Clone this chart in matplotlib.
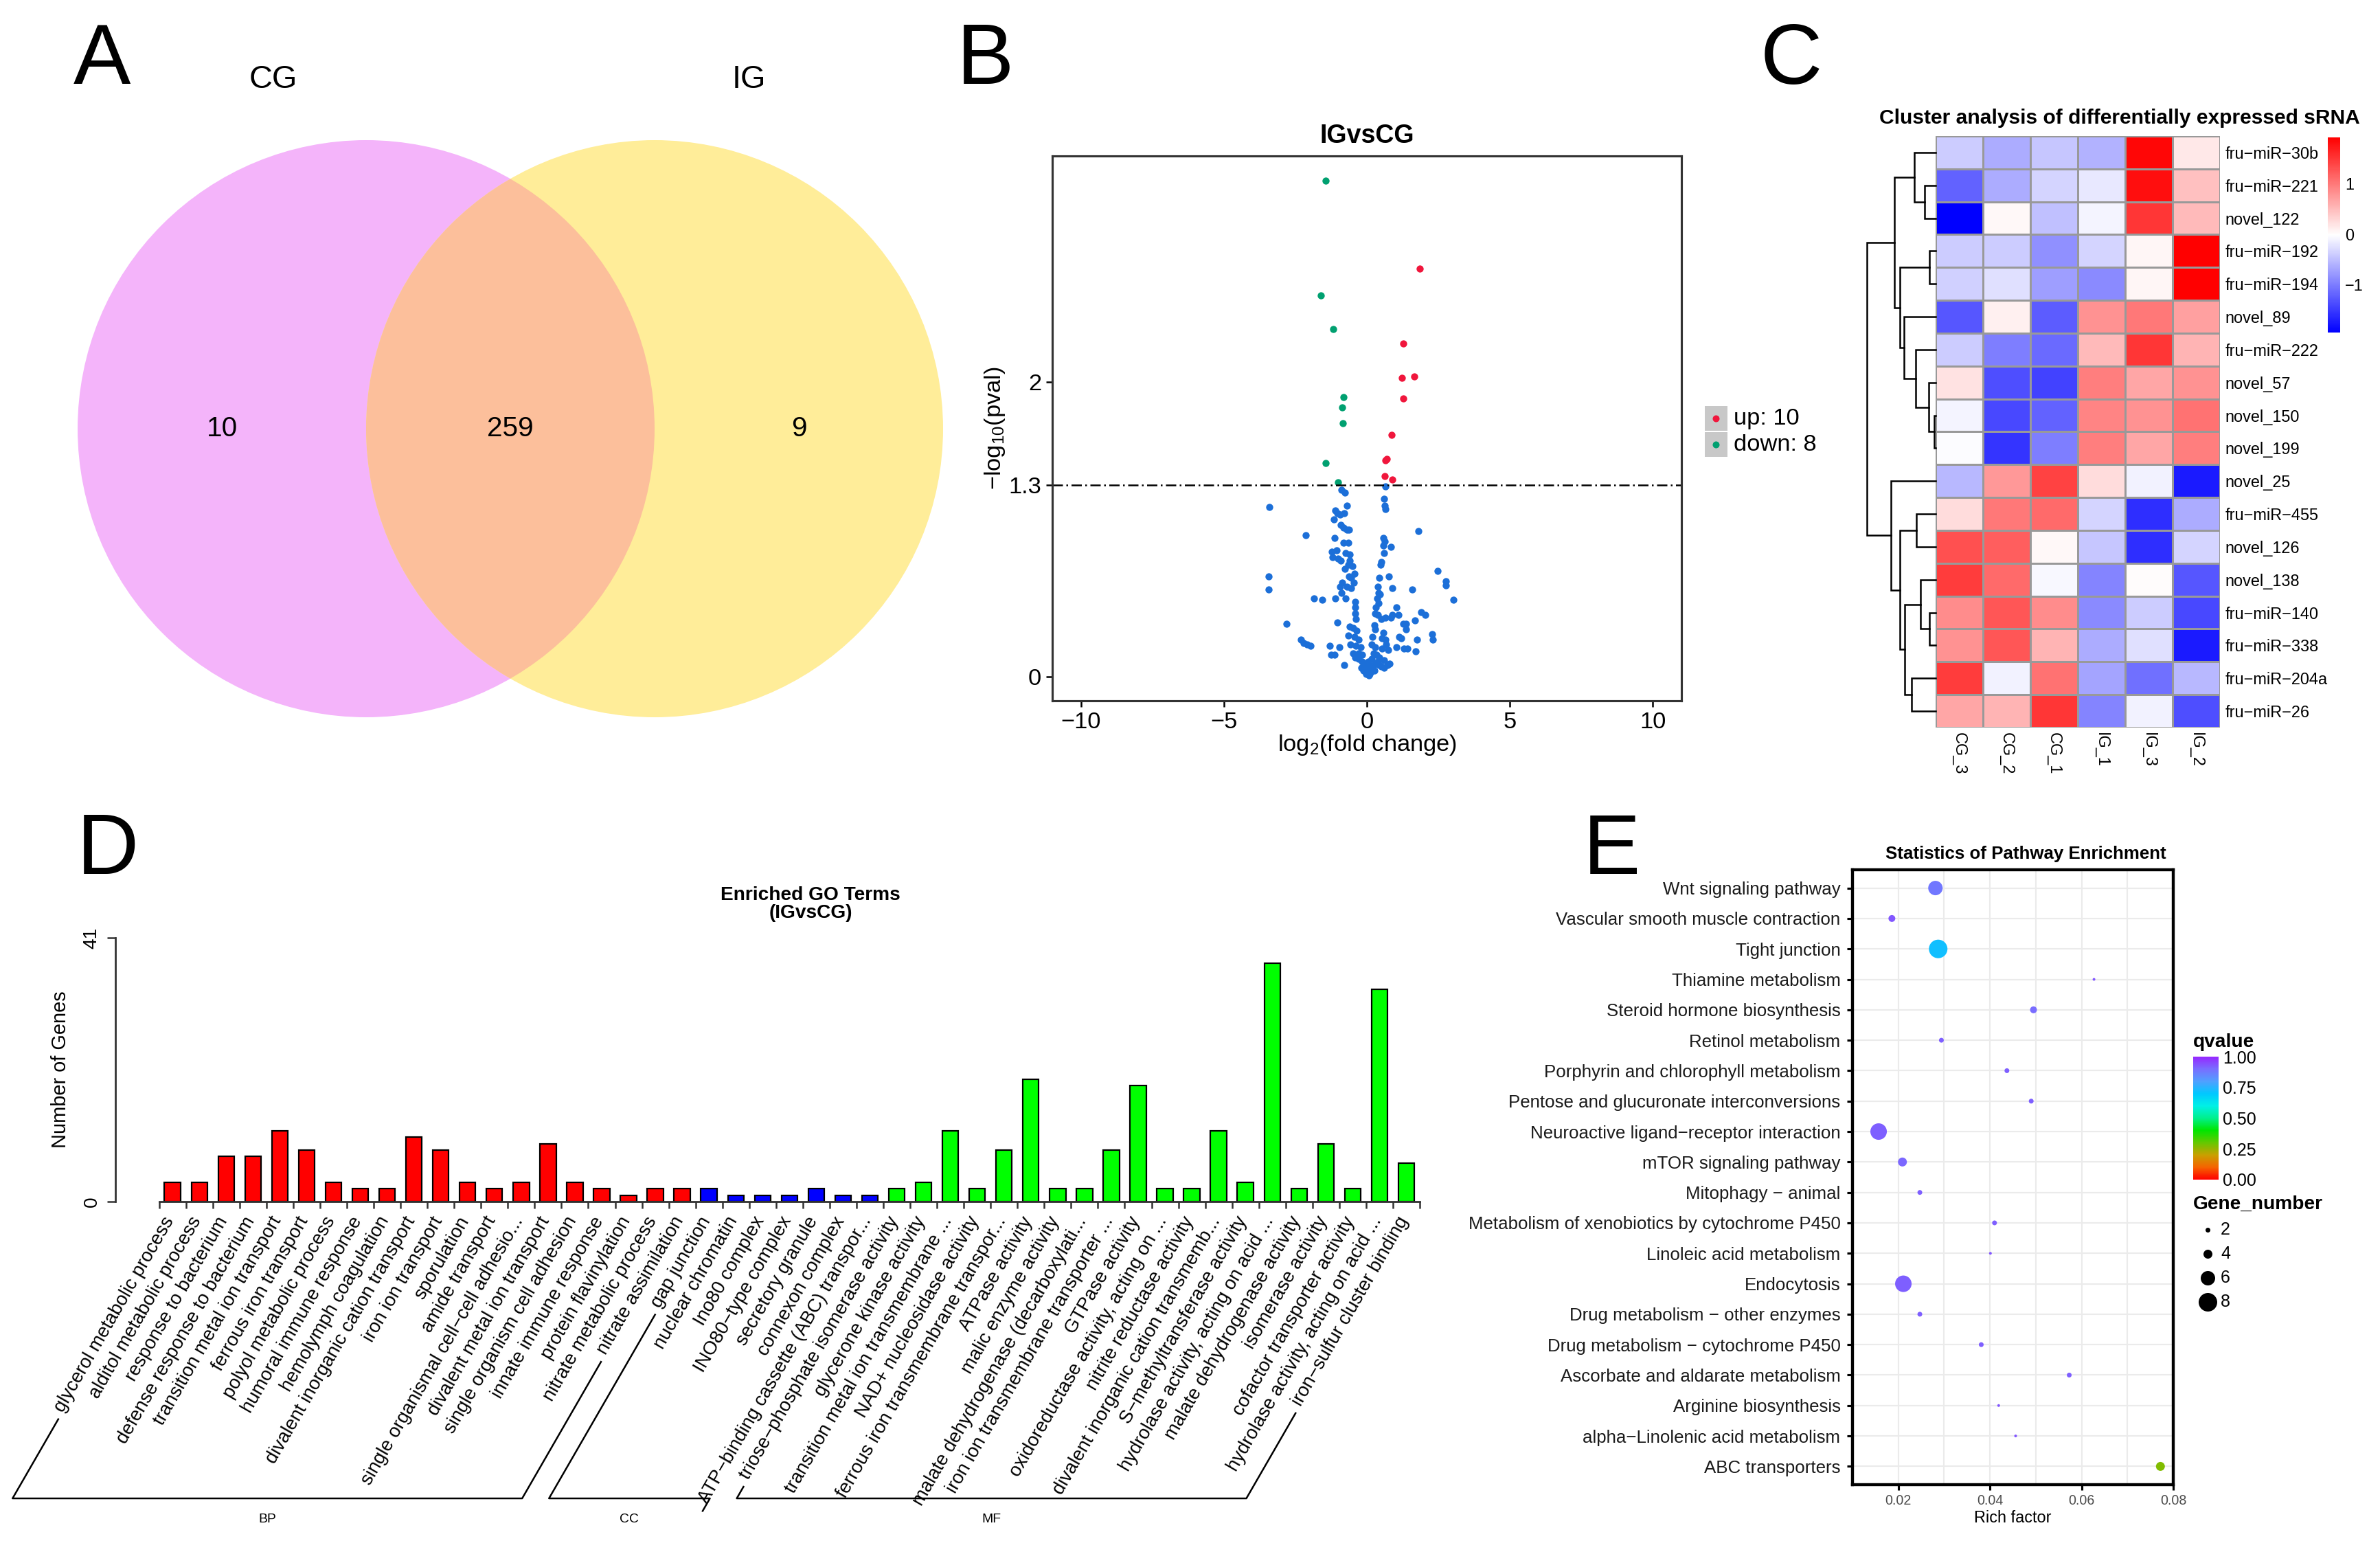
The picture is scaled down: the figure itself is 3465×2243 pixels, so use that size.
import numpy as np
import matplotlib
matplotlib.use('Agg')
import matplotlib.pyplot as plt
from matplotlib.patches import Circle, Rectangle
from matplotlib.colors import LinearSegmentedColormap, Normalize
from matplotlib.cm import ScalarMappable
from matplotlib.lines import Line2D

plt.rcParams['font.family'] = ['Liberation Sans', 'DejaVu Sans']
plt.rcParams['mathtext.default'] = 'regular'

W, H, DPI = 3465, 2243, 225

# ---------------- data ----------------
# A: Venn
venn_names = ['CG', 'IG']
venn_counts = [10, 259, 9]          # CG only, shared, IG only

# B: volcano (log2 fold change, -log10 p)
up_points = [(1.84, 2.77), (1.28, 2.26), (1.22, 2.03), (1.66, 2.04), (1.28, 1.89),
             (0.86, 1.64), (0.70, 1.48), (0.66, 1.47), (0.62, 1.36), (0.90, 1.34)]
down_points = [(-1.44, 3.37), (-1.60, 2.59), (-1.18, 2.36), (-0.82, 1.90),
               (-0.86, 1.83), (-0.84, 1.72), (-1.44, 1.45), (-1.00, 1.32)]
ns_points = [(-3.42, 1.15), (-3.44, 0.68), (-3.44, 0.59), (-2.14, 0.96), (-2.80, 0.36),
             (-2.30, 0.25), (-2.20, 0.23), (-2.10, 0.22), (-1.98, 0.21), (-1.86, 0.53),
             (-1.56, 0.52), (-1.30, 0.21), (-1.24, 0.15), (-1.14, 0.15), (-1.04, 0.37),
             (-1.10, 0.53), (-0.94, 0.61), (-0.96, 0.20), (-0.80, 0.08), (-0.88, 1.27),
             (-0.78, 1.25), (-0.70, 1.16), (-1.10, 1.13), (-1.04, 1.11), (-1.16, 1.07),
             (-0.94, 1.10), (-0.80, 1.11), (-0.92, 1.03), (-0.82, 1.01), (-0.70, 1.00),
             (-0.62, 1.00), (-1.14, 0.94), (-0.82, 0.91), (-0.66, 0.91), (-1.22, 0.85),
             (-1.06, 0.86), (-0.74, 0.84), (-0.60, 0.83), (-1.20, 0.81), (-1.02, 0.80),
             (-0.92, 0.79), (-0.60, 0.79), (-0.64, 0.76), (-0.50, 0.75), (-0.44, 0.70),
             (-0.62, 0.68), (-0.56, 0.67), (-0.46, 0.64), (-0.56, 0.60), (-0.70, 0.61),
             (-0.90, 0.57), (-0.74, 0.53), (-0.42, 0.51), (-0.42, 0.47), (-0.40, 0.43),
             (-0.38, 0.39), (-0.60, 0.34), (-0.48, 0.33), (-0.36, 0.31), (-0.64, 0.28),
             (-0.44, 0.27), (-0.30, 0.25), (-0.58, 0.22), (-0.38, 0.21), (-0.22, 0.20),
             (-0.48, 0.16), (-0.30, 0.16), (-0.16, 0.15), (-0.40, 0.13), (-0.28, 0.12),
             (-0.18, 0.10), (-0.10, 0.09), (-0.06, 0.08), (0.00, 0.06), (0.04, 0.05),
             (-0.04, 0.03), (0.08, 0.01), (0.14, 0.03), (0.20, 0.05), (0.24, 0.08),
             (0.30, 0.09), (0.38, 0.10), (0.44, 0.08), (0.50, 0.07), (0.60, 0.06),
             (0.72, 0.08), (0.80, 0.09), (0.66, 1.29), (0.60, 1.21), (0.62, 1.16),
             (0.64, 1.14), (0.58, 0.94), (0.62, 0.92), (0.58, 0.89), (0.60, 0.84),
             (0.84, 0.88), (0.50, 0.78), (0.48, 0.76), (0.76, 0.68), (0.44, 0.67),
             (0.38, 0.61), (0.88, 0.60), (0.40, 0.57), (0.46, 0.56), (0.36, 0.53),
             (0.42, 0.50), (0.32, 0.47), (0.30, 0.43), (0.38, 0.42), (0.50, 0.39),
             (0.64, 0.40), (0.84, 0.40), (0.90, 0.42), (1.04, 0.47), (1.10, 0.42),
             (0.26, 0.35), (0.28, 0.32), (0.58, 0.30), (0.20, 0.27), (0.54, 0.26),
             (0.64, 0.25), (0.18, 0.22), (0.28, 0.20), (0.54, 0.19), (0.24, 0.16),
             (0.34, 0.15), (0.44, 0.13), (0.60, 0.11), (0.68, 0.22), (0.74, 0.18),
             (1.80, 0.99), (2.48, 0.72), (2.76, 0.65), (2.76, 0.62), (3.02, 0.52),
             (1.58, 0.59), (1.90, 0.44), (2.04, 0.42), (1.68, 0.38), (1.36, 0.36),
             (1.38, 0.32), (1.28, 0.36), (2.28, 0.29), (2.30, 0.25), (1.76, 0.25),
             (1.70, 0.17), (1.12, 0.27), (1.20, 0.26), (1.04, 0.20), (1.30, 0.19),
             (1.42, 0.19), (-0.76, 0.73), (-0.86, 0.64), (-0.02, 0.02), (0.02, 0.04),
             (0.10, 0.02), (-0.12, 0.04), (0.06, 0.10), (0.16, 0.12), (-0.20, 0.06),
             (0.26, 0.04), (0.12, 0.07)]
p_cutoff = 1.3

# C: heatmap (row-scaled expression)
hm_rows = ['fru−miR−30b', 'fru−miR−221', 'novel_122', 'fru−miR−192', 'fru−miR−194',
           'novel_89', 'fru−miR−222', 'novel_57', 'novel_150', 'novel_199', 'novel_25',
           'fru−miR−455', 'novel_126', 'novel_138', 'fru−miR−140', 'fru−miR−338',
           'fru−miR−204a', 'fru−miR−26']
hm_cols = ['CG_3', 'CG_2', 'CG_1', 'IG_1', 'IG_3', 'IG_2']
hm_values = np.array([
    [-0.40, -0.65, -0.45, -0.60, 1.85, 0.15],
    [-1.20, -0.65, -0.35, -0.20, 1.80, 0.45],
    [-1.95, 0.03, -0.50, -0.10, 1.50, 0.50],
    [-0.40, -0.40, -0.85, -0.35, 0.05, 1.91],
    [-0.38, -0.25, -0.75, -0.90, 0.05, 1.90],
    [-1.30, 0.10, -1.25, 0.80, 1.00, 0.70],
    [-0.40, -1.00, -1.15, 0.50, 1.50, 0.55],
    [0.20, -1.35, -1.45, 0.95, 0.65, 0.80],
    [-0.10, -1.40, -1.20, 0.90, 0.80, 1.05],
    [-0.05, -1.55, -1.00, 0.95, 0.65, 0.95],
    [-0.55, 0.75, 1.40, 0.25, -0.12, -1.75],
    [0.25, 1.00, 1.10, -0.35, -1.60, -0.65],
    [1.30, 1.20, 0.03, -0.45, -1.60, -0.35],
    [1.45, 1.10, -0.08, -0.95, 0.00, -1.30],
    [0.85, 1.25, 0.85, -0.90, -0.40, -1.40],
    [0.80, 1.25, 0.55, -0.65, -0.25, -1.75],
    [1.45, -0.12, 1.05, -0.70, -1.10, -0.55],
    [0.65, 0.55, 1.50, -0.95, -0.12, -1.35],
])
# row dendrogram: (height, left, right), leaves are row indices
hm_tree = (202,
           (122, (62, 0, (33, 1, 2)),
                 (105, (18, 3, 4), (92, 5, (58, 6, (20, 7, (5, 8, 9)))))),
           (132, 10,
                 (105, (57, 11, 12),
                      (90, (45, 13, (18, 14, 15)), (70, 16, 17)))))

# D: GO enrichment
bp_terms = ['glycerol metabolic process', 'alditol metabolic process', 'response to bacterium',
            'defense response to bacterium', 'transition metal ion transport',
            'ferrous iron transport', 'polyol metabolic process', 'humoral immune response',
            'hemolymph coagulation', 'divalent inorganic cation transport', 'iron ion transport',
            'sporulation', 'amide transport', 'single organismal cell−cell adhesio...',
            'divalent metal ion transport', 'single organism cell adhesion',
            'innate immune response', 'protein flavinylation', 'nitrate metabolic process',
            'nitrate assimilation']
bp_counts = [3, 3, 7, 7, 11, 8, 3, 2, 2, 10, 8, 3, 2, 3, 9, 3, 2, 1, 2, 2]
cc_terms = ['gap junction', 'nuclear chromatin', 'Ino80 complex', 'INO80−type complex',
            'secretory granule', 'connexon complex', 'ATP−binding cassette (ABC) transpor...']
cc_counts = [2, 1, 1, 1, 2, 1, 1]
mf_terms = ['triose−phosphate isomerase activity', 'glycerone kinase activity',
            'transition metal ion transmembrane ...', 'NAD+ nucleosidase activity',
            'ferrous iron transmembrane transpor...', 'ATPase activity', 'malic enzyme activity',
            'malate dehydrogenase (decarboxylati...', 'iron ion transmembrane transporter ...',
            'GTPase activity', 'oxidoreductase activity, acting on ...',
            'nitrite reductase activity', 'divalent inorganic cation transmemb...',
            'S−methyltransferase activity', 'hydrolase activity, acting on acid ...',
            'malate dehydrogenase activity', 'isomerase activity',
            'cofactor transporter activity', 'hydrolase activity, acting on acid ...',
            'iron−sulfur cluster binding']
mf_counts = [2, 3, 11, 2, 8, 19, 2, 2, 8, 18, 2, 2, 11, 3, 37, 2, 9, 2, 33, 6]
go_ymax = 41

# E: KEGG enrichment
kegg_terms = ['Wnt signaling pathway', 'Vascular smooth muscle contraction', 'Tight junction',
              'Thiamine metabolism', 'Steroid hormone biosynthesis', 'Retinol metabolism',
              'Porphyrin and chlorophyll metabolism', 'Pentose and glucuronate interconversions',
              'Neuroactive ligand−receptor interaction', 'mTOR signaling pathway',
              'Mitophagy − animal', 'Metabolism of xenobiotics by cytochrome P450',
              'Linoleic acid metabolism', 'Endocytosis', 'Drug metabolism − other enzymes',
              'Drug metabolism − cytochrome P450', 'Ascorbate and aldarate metabolism',
              'Arginine biosynthesis', 'alpha−Linolenic acid metabolism', 'ABC transporters']
kegg_rich = [0.0281, 0.0186, 0.0287, 0.0627, 0.0495, 0.0294, 0.0437, 0.0490, 0.0157, 0.0209,
             0.0247, 0.0410, 0.0401, 0.0211, 0.0247, 0.0381, 0.0573, 0.0419, 0.0456, 0.0772]
kegg_genes = [6, 3, 8, 1, 3, 2, 2, 2, 7, 4, 2, 2, 1, 7, 2, 2, 2, 1, 1, 4]
kegg_q = [0.88, 0.93, 0.72, 0.93, 0.90, 0.92, 0.92, 0.92, 0.92, 0.91, 0.92, 0.92, 0.93, 0.92,
          0.92, 0.92, 0.92, 0.93, 0.93, 0.27]


# ---------------- helpers ----------------
def fx(px):
    return px / W


def fy(py):
    return 1 - py / H


def box(x0, y0, x1, y1):
    return [fx(x0), fy(y1), (x1 - x0) / W, (y1 - y0) / H]


fig = plt.figure(figsize=(W / DPI, H / DPI), dpi=DPI)

for letter, (lx, ly) in zip('ABCDE', [(148, 90), (1434, 90), (2608, 90), (157, 1240), (2346, 1240)]):
    fig.text(fx(lx), fy(ly), letter, fontsize=40, ha='center', va='center')

# ---------------- A: Venn ----------------
ax = fig.add_axes(box(71, 99, 1415, 1149))
ax.set_xlim(-1.6, 1.6)
ax.set_ylim(-1.25, 1.25)
ax.axis('off')
r = 1.0
c1, c2 = -0.5, 0.5
cg = Circle((c1, 0), r, fc='#F4B4FA', ec='none')
ig = Circle((c2, 0), r, fc='#FFED99', ec='none')
ax.add_patch(cg)
ax.add_patch(ig)
ov = Circle((c2, 0), r, fc='#FCBF9B', ec='none')
ax.add_patch(ov)
ov.set_clip_path(cg)
xs = [(c1 - r + c2 - r) / 2, (c2 - r + c1 + r) / 2, (c1 + r + c2 + r) / 2]
for x, n in zip(xs, venn_counts):
    ax.text(x, 0, str(n), ha='center', va='center', fontsize=13)
fig.text(fx(398), fy(116), venn_names[0], ha='center', va='center', fontsize=15)
fig.text(fx(1090), fy(116), venn_names[1], ha='center', va='center', fontsize=15)

# ---------------- B: volcano ----------------
ax = fig.add_axes(box(1532, 227, 2448, 1020))
ns = np.array(ns_points)
up = np.array(up_points)
dn = np.array(down_points)
ax.scatter(ns[:, 0], ns[:, 1], s=11, color='#1C6FD8', linewidths=0)
ax.scatter(up[:, 0], up[:, 1], s=11, color='#F0163C', linewidths=0)
ax.scatter(dn[:, 0], dn[:, 1], s=11, color='#00A070', linewidths=0)
ax.axhline(p_cutoff, color='black', lw=0.8, ls=(0, (6, 2, 1, 2)))
ax.set_xlim(-11, 11)
ax.set_ylim(-0.164, 3.536)
ax.set_xticks([-10, -5, 0, 5, 10])
ax.set_yticks([0, p_cutoff, 2])
ax.set_yticklabels(['0', '1.3', '2'])
ax.tick_params(labelsize=11, length=3, width=0.8, pad=2)
for sp in ax.spines.values():
    sp.set_color('#333333')
    sp.set_linewidth(1.0)
ax.set_xlabel('log$_2$(fold change)', fontsize=11, labelpad=0)
ax.set_ylabel('−log$_{10}$(pval)', fontsize=11, labelpad=1)
fig.text(fx(1990), fy(198), 'IGvsCG', ha='center', va='center', fontsize=12, fontweight='bold')
for i, (lab, col) in enumerate([('up: %d' % len(up_points), '#F0163C'),
                                ('down: %d' % len(down_points), '#00A070')]):
    y0 = 591 + i * 38
    fig.add_artist(Rectangle((fx(2482), fy(y0 + 36)), 33 / W, 36 / H,
                             transform=fig.transFigure, fc='#C8C8C8', ec='none'))
    fig.add_artist(Line2D([fx(2498)], [fy(y0 + 18)], marker='o', ms=3.2, color=col,
                          mec='none', transform=fig.transFigure))
    fig.text(fx(2524), fy(y0 + 18), lab, fontsize=11, va='center', ha='left')

# ---------------- C: heatmap ----------------
hm_cmap = LinearSegmentedColormap.from_list('bwr2', ['#0000FF', '#FFFFFF', '#FF0000'])
hm_norm = Normalize(vmin=hm_values.min(), vmax=hm_values.max())
ax = fig.add_axes(box(2818, 198, 3232, 1059))
nrow, ncol = hm_values.shape
ax.pcolormesh(np.arange(ncol + 1), np.arange(nrow + 1), hm_values, cmap=hm_cmap, norm=hm_norm,
              edgecolors='#999999', linewidth=0.9)
ax.set_xlim(0, ncol)
ax.set_ylim(nrow, 0)
ax.yaxis.tick_right()
ax.set_yticks(np.arange(nrow) + 0.5)
ax.set_yticklabels(hm_rows, fontsize=7.5)
ax.set_xticks(np.arange(ncol) + 0.5)
ax.set_xticklabels(hm_cols, fontsize=7.5, rotation=270)
ax.tick_params(length=0, pad=2.3)
for sp in ax.spines.values():
    sp.set_visible(False)
fig.text(fx(3086), fy(172), 'Cluster analysis of differentially expressed sRNA',
         ha='center', va='center', fontsize=9.6, fontweight='bold')

dax = fig.add_axes(box(2718, 198, 2818, 1059))
dax.set_xlim(hm_tree[0], 0)
dax.set_ylim(nrow, 0)
dax.axis('off')


def draw_tree(node):
    if not isinstance(node, tuple):
        return node + 0.5, 0
    h, left, right = node
    yl, hl = draw_tree(left)
    yr, hr = draw_tree(right)
    dax.plot([hl, h, h, hr], [yl, yl, yr, yr], color='black', lw=0.8,
             solid_joinstyle='miter', clip_on=False)
    return (yl + yr) / 2, h


draw_tree(hm_tree)

cax = fig.add_axes(box(3389, 200, 3407, 484))
cb = fig.colorbar(ScalarMappable(norm=hm_norm, cmap=hm_cmap), cax=cax, ticks=[-1, 0, 1])
cb.outline.set_visible(False)
cb.ax.set_yticklabels(['−1', '0', '1'])
cb.ax.tick_params(length=0, labelsize=7.5, pad=2.3)

# ---------------- D: GO bars ----------------
ax = fig.add_axes(box(168, 1365, 2067, 1749))
groups = [(bp_terms, bp_counts, '#FF0000', 'BP'),
          (cc_terms, cc_counts, '#0000FF', 'CC'),
          (mf_terms, mf_counts, '#00FF00', 'MF')]
pos = 0
group_texts = []
for terms, counts, col, name in groups:
    x = np.arange(pos, pos + len(terms))
    ax.bar(x, counts, width=0.6, color=col, edgecolor='black', linewidth=0.7)
    texts = []
    for xi, t in zip(x, terms):
        texts.append(ax.text(xi - 0.37, -0.045, t, transform=ax.get_xaxis_transform(),
                             rotation=60, ha='right', va='top', rotation_mode='anchor',
                             fontsize=8.8))
    group_texts.append((texts, name))
    pos += len(terms)
ax.set_xlim(-2.13, pos - 0.5)
ax.set_ylim(0, go_ymax)
for s in ['top', 'right']:
    ax.spines[s].set_visible(False)
ax.spines['left'].set_bounds(0, go_ymax)
ax.spines['bottom'].set_bounds(-0.5, pos - 0.5)
for s in ['left', 'bottom']:
    ax.spines[s].set_color('#333333')
    ax.spines[s].set_linewidth(0.9)
ax.set_xticks(np.arange(-0.5, pos))
ax.set_xticklabels([])
ax.set_yticks([0, go_ymax])
ax.tick_params(axis='x', length=3.2, width=0.8, color='#333333')
ax.tick_params(axis='y', length=3.8, width=0.8, color='#333333', labelsize=9, pad=3)
for t in ax.get_yticklabels():
    t.set_rotation(90)
    t.set_va('center')
ax.set_ylabel('Number of Genes', fontsize=9.3, labelpad=6)
fig.text(fx(1180), fy(1316), 'Enriched GO Terms\n(IGvsCG)', ha='center', va='center',
         fontsize=9, fontweight='bold', linespacing=1.0)

# ---------------- E: KEGG bubble ----------------
q_cmap = LinearSegmentedColormap.from_list('qv', [
    (0.0, '#FF0000'), (0.1, '#F56400'), (0.2, '#C8A000'), (0.3, '#64C800'),
    (0.4, '#00E600'), (0.5, '#00F08C'), (0.6, '#00F0E6'), (0.7, '#00C8FF'),
    (0.8, '#50A0FF'), (0.9, '#786EFF'), (1.0, '#9628FF')])
q_norm = Normalize(0, 1)


def gene_ms(n):
    return np.interp(n, [1, 2, 4, 6, 8], [4, 7, 13, 21, 27]) / (DPI / 72)


ax = fig.add_axes(box(2697, 1266, 3164, 2161))
yk = np.arange(len(kegg_terms))
ax.scatter(kegg_rich, yk, s=gene_ms(np.array(kegg_genes)) ** 2, c=kegg_q, cmap=q_cmap,
           norm=q_norm, linewidths=0, zorder=3)
ax.set_yticks(yk)
ax.set_yticklabels(kegg_terms, fontsize=8.3, color='#1A1A1A')
ax.set_ylim(len(kegg_terms) - 0.4, -0.6)
ax.set_xlim(0.01215, 0.08)
ax.set_xticks([0.02, 0.04, 0.06, 0.08])
ax.set_xticklabels(['0.02', '0.04', '0.06', '0.08'])
ax.set_xticks(np.arange(0.01, 0.081, 0.01), minor=True)
ax.grid(True, which='both', color='#EBEBEB', lw=0.7)
ax.set_axisbelow(True)
ax.tick_params(axis='y', length=2.6, width=1.0, pad=3)
ax.tick_params(axis='x', which='major', length=2.6, width=1.0, labelsize=6.3,
               labelcolor='#4D4D4D', pad=2)
ax.tick_params(axis='x', which='minor', length=0)
for sp in ax.spines.values():
    sp.set_linewidth(1.4)
    sp.set_color('black')
ax.set_xlabel('Rich factor', fontsize=7.5, labelpad=1)
fig.text(fx(2949), fy(1243), 'Statistics of Pathway Enrichment', ha='center', va='center',
         fontsize=8.3, fontweight='bold')

cax = fig.add_axes(box(3193, 1538, 3230, 1717))
cb = fig.colorbar(ScalarMappable(norm=q_norm, cmap=q_cmap), cax=cax,
                  ticks=[0, 0.25, 0.5, 0.75, 1.0])
cb.outline.set_visible(False)
cb.ax.set_yticklabels(['0.00', '0.25', '0.50', '0.75', '1.00'])
cb.ax.tick_params(length=0, labelsize=8, pad=2)
fig.text(fx(3193), fy(1530), 'qvalue', fontsize=9, fontweight='bold', va='bottom', ha='left')
fig.text(fx(3193), fy(1753), 'Gene_number', fontsize=9, fontweight='bold', va='center', ha='left')
for n, yy in zip([2, 4, 6, 8], [1790, 1825, 1860, 1895]):
    fig.add_artist(Line2D([fx(3214)], [fy(yy)], marker='o', ms=gene_ms(n), color='black',
                          mec='none', transform=fig.transFigure))
    fig.text(fx(3233), fy(yy), str(n), fontsize=8, va='center', ha='left')

# ---------------- D: category brackets ----------------
fig.canvas.draw()
renderer = fig.canvas.get_renderer()
base = H - 2181
cs, sn = np.cos(np.radians(60)), np.sin(np.radians(60))


def slant(t):
    bb = t.get_window_extent(renderer)
    x0, y0 = bb.x0 + 10, bb.y0 - 6
    x1 = x0 - (y0 - base) / np.tan(np.radians(60))
    return (x0, y0), (x1, base)


for texts, name in group_texts:
    (ax0, ay0), (bx0, by0) = slant(texts[0])
    (ax1, ay1), (bx1, by1) = slant(texts[-1])
    xs_ = np.array([ax0, bx0, bx1, ax1]) / W
    ys_ = np.array([ay0, by0, by1, ay1]) / H
    fig.add_artist(Line2D(xs_, ys_, color='black', lw=0.8, transform=fig.transFigure))
    fig.text((bx0 + bx1) / 2 / W, fy(2211), name, fontsize=6.2, ha='center', va='center')

fig.savefig('out.png', dpi=DPI)
